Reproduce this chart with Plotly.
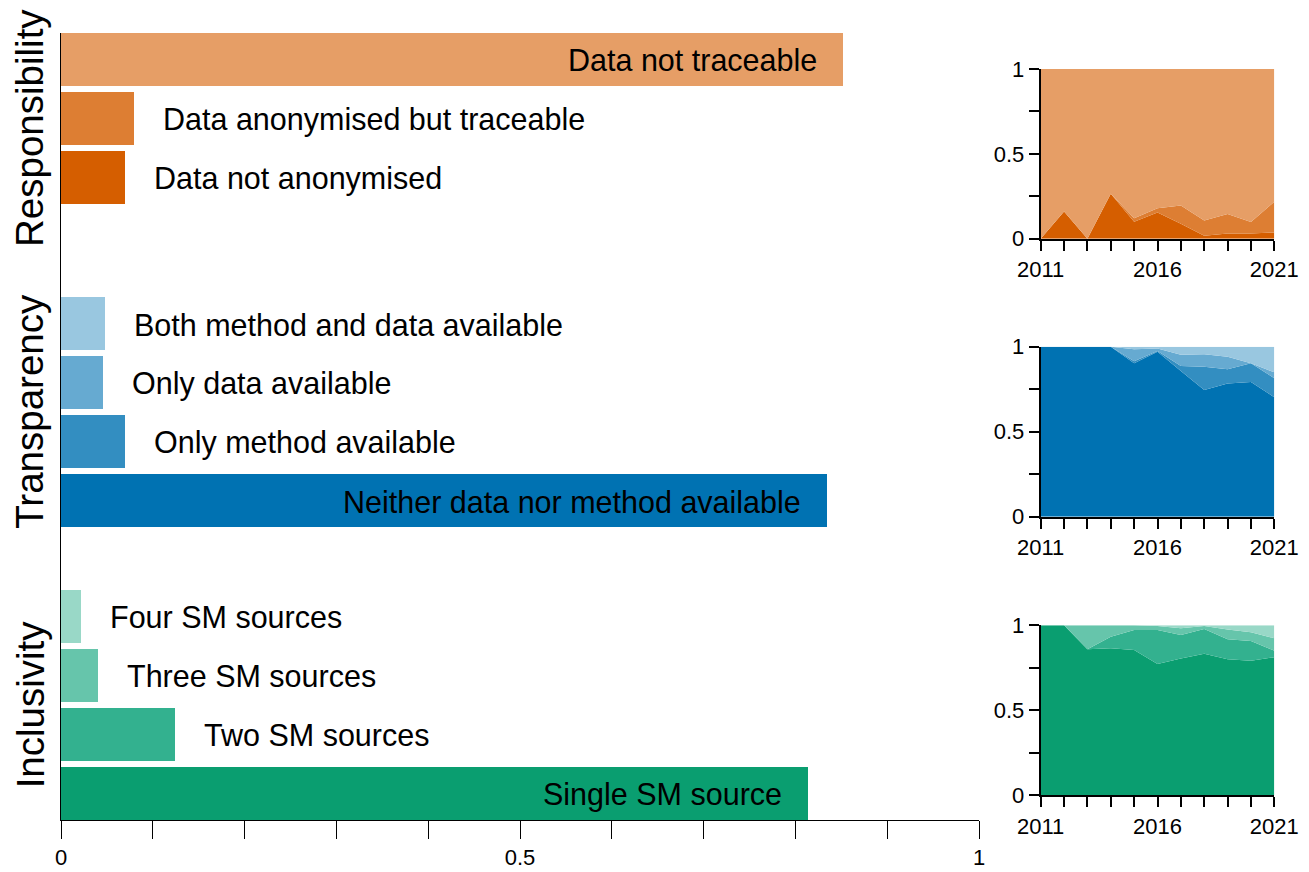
import plotly.graph_objects as go

# ---- overall shares (horizontal bars) ----
resp_labels = ["Data not traceable", "Data anonymised but traceable", "Data not anonymised"]
resp_values = [0.852, 0.080, 0.070]

trans_labels = ["Both method and data available", "Only data available",
                "Only method available", "Neither data nor method available"]
trans_values = [0.048, 0.046, 0.070, 0.834]

incl_labels = ["Four SM sources", "Three SM sources", "Two SM sources", "Single SM source"]
incl_values = [0.022, 0.040, 0.124, 0.814]

group_names = ["Responsibility", "Transparency", "Inclusivity"]

# ---- yearly shares (stacked areas, bottom layer first) ----
years = list(range(2011, 2022))

resp_not_anon = [0, 0.161, 0, 0.265, 0.100, 0.155, 0.088, 0.018, 0.030, 0.030, 0.037]
resp_anon_traceable = [0, 0, 0, 0, 0.020, 0.025, 0.107, 0.089, 0.115, 0.069, 0.181]
resp_not_traceable = [1, 0.839, 1, 0.735, 0.880, 0.820, 0.805, 0.893, 0.855, 0.901, 0.782]

trans_neither = [1, 1, 1, 1, 0.902, 0.971, 0.857, 0.745, 0.784, 0.792, 0.702]
trans_method = [0, 0, 0, 0, 0.013, 0.004, 0.029, 0.137, 0.083, 0.110, 0.112]
trans_data = [0, 0, 0, 0, 0.070, 0.015, 0.067, 0.073, 0.074, 0.000, 0.035]
trans_both = [0, 0, 0, 0, 0.015, 0.010, 0.047, 0.045, 0.059, 0.098, 0.151]

incl_single = [1, 1, 0.859, 0.865, 0.855, 0.773, 0.804, 0.833, 0.800, 0.792, 0.812]
incl_two = [0, 0, 0, 0.068, 0.118, 0.200, 0.139, 0.145, 0.118, 0.116, 0.039]
incl_three = [0, 0, 0.141, 0.067, 0.027, 0.023, 0.039, 0.018, 0.058, 0.051, 0.073]
incl_four = [0, 0, 0, 0, 0, 0.004, 0.018, 0.004, 0.024, 0.041, 0.076]

# ---- colours ----
orange = ["#E69E66", "#DD7E33", "#D55E00"]            # light -> dark
blue = ["#99C7E0", "#66AAD1", "#338EC1", "#0072B2"]
green = ["#99D8C7", "#66C5AB", "#33B18F", "#0A9E70"]

FONT = "Arial, Liberation Sans, sans-serif"
W, H = 1309, 872

fig = go.Figure()

# bar slot layout: one unit per bar, groups start at these slots
group_start = [0, 4.475, 9.44]
# vertical position (in slots) of each rotated group title
title_pos = [1.16, 5.97, 10.93]
groups = [
    (resp_labels, resp_values, orange),
    (trans_labels, trans_values, blue),
    (incl_labels, incl_values, green),
]

annotations = []
for g, (labels, values, colors) in enumerate(groups):
    ys = [group_start[g] + i for i in range(len(labels))]
    fig.add_trace(go.Bar(
        x=values, y=ys, orientation="h", width=0.9,
        marker=dict(color=colors, line=dict(width=0)),
        showlegend=False, hoverinfo="skip",
        xaxis="x", yaxis="y",
    ))
    for lab, val, yy in zip(labels, values, ys):
        inside = val > 0.5
        annotations.append(dict(
            x=val, y=yy, xref="x", yref="y", text=lab, showarrow=False,
            xanchor="right" if inside else "left",
            xshift=-24 if inside else 27, yshift=-1,
            font=dict(family=FONT, size=30.5, color="black"),
        ))
    annotations.append(dict(
        x=30 / W, xref="paper", y=title_pos[g], yref="y", text=group_names[g],
        textangle=-90, showarrow=False, xanchor="center", yanchor="middle",
        font=dict(family=FONT, size=38.5, color="black"),
    ))

# stacked area insets
area_sets = [
    ([resp_not_anon, resp_anon_traceable, resp_not_traceable], orange[::-1], "x2", "y2"),
    ([trans_neither, trans_method, trans_data, trans_both], blue[::-1], "x3", "y3"),
    ([incl_single, incl_two, incl_three, incl_four], green[::-1], "x4", "y4"),
]
for k, (series, colors, xa, ya) in enumerate(area_sets):
    for s, c in zip(series, colors):
        fig.add_trace(go.Scatter(
            x=years, y=s, mode="none", stackgroup=f"g{k}",
            fillcolor=c, line=dict(width=0), showlegend=False,
            hoverinfo="skip", xaxis=xa, yaxis=ya,
        ))


def px_x(a, b):
    return [a / W, b / W]


def px_y(top, bottom):
    return [1 - bottom / H, 1 - top / H]


main_tickvals = [i / 10 for i in range(11)]
main_ticktext = ["0" if v == 0 else "0.5" if abs(v - 0.5) < 1e-9 else "1" if v == 1 else ""
                 for v in main_tickvals]

layout = dict(
    width=W, height=H,
    margin=dict(l=0, r=0, t=0, b=0, autoexpand=False),
    paper_bgcolor="white", plot_bgcolor="white",
    font=dict(family=FONT, size=22, color="black"),
    bargap=0,
    xaxis=dict(
        domain=px_x(61, 979), range=[0, 1], showgrid=False, zeroline=False,
        automargin=False,
        showline=True, linecolor="black", linewidth=1,
        ticks="outside", ticklen=18, tickwidth=1, tickcolor="black",
        tickvals=main_tickvals, ticktext=main_ticktext,
        tickfont=dict(size=22),
    ),
    yaxis=dict(
        domain=px_y(33, 820), range=[12.89, -0.449], showgrid=False,
        automargin=False,
        zeroline=False, showline=True, linecolor="black", linewidth=1,
        showticklabels=False, ticks="",
    ),
    annotations=annotations,
)

inset_rows = [(69, 238.7), (346.7, 516.7), (625.3, 795.3)]
for k, (top, bottom) in enumerate(inset_rows):
    n = k + 2
    layout[f"xaxis{n}"] = dict(
        domain=px_x(1040.7, 1274.3), anchor=f"y{n}", range=[2011, 2021],
        automargin=False,
        showgrid=False, zeroline=False, showline=True, linecolor="black",
        linewidth=2, ticks="outside", ticklen=10, tickwidth=1.5,
        tickcolor="black", tickvals=years,
        ticktext=[str(y) if y in (2011, 2016, 2021) else "" for y in years],
        tickfont=dict(size=22), tickangle=0,
    )
    layout[f"yaxis{n}"] = dict(
        domain=px_y(top, bottom), anchor=f"x{n}", range=[0, 1],
        automargin=False,
        showgrid=False, zeroline=False, showline=True, linecolor="black",
        linewidth=2, ticks="outside", ticklen=10, tickwidth=1.5,
        tickcolor="black", tickvals=[0, 0.25, 0.5, 0.75, 1],
        ticktext=["0", "", "0.5", "", "1"], tickfont=dict(size=22),
    )

fig.update_layout(**layout)
fig.write_html("out.html")
